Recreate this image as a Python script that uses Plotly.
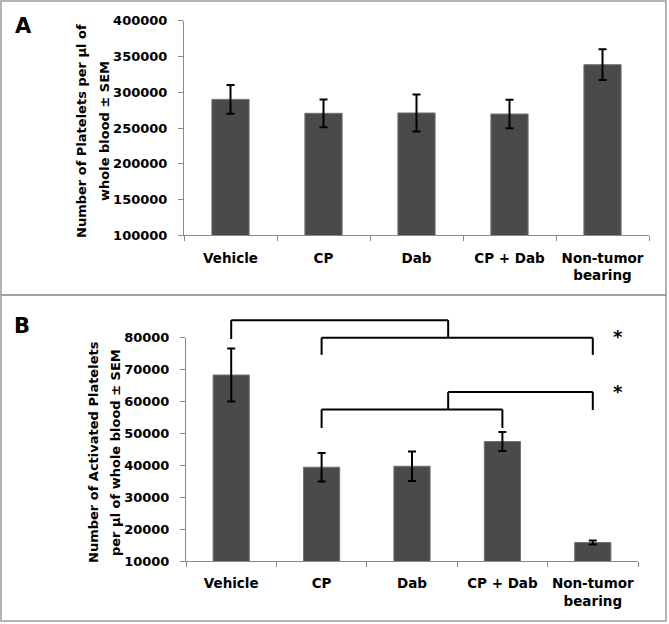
import plotly.graph_objects as go

# ---------------- data ----------------
categories = ["Vehicle", "CP", "Dab", "CP + Dab", "Non-tumor<br>bearing"]

platelets = [290000, 270500, 271000, 269500, 338500]
platelets_sem = [20000, 19500, 26000, 20000, 21500]

activated = [68300, 39400, 39700, 47450, 15800]
activated_sem = [8300, 4450, 4600, 3000, 650]

ytitle_a = ["Number of Platelets per µl of", "whole blood ± SEM"]
ytitle_b = ["Number of Activated Platelets", "per µl of whole blood ± SEM"]

# significance brackets for panel B: (x_left, x_right, y_top, y_left_end, y_right_end)
brackets = [
    (0, 2.4, 85500, 79600, 80000),
    (1, 4, 80000, 74600, 74600),
    (2.4, 4, 63000, 57500, 57300),
    (1, 3, 57500, 51700, 51700),
]
stars = [(4.28, 80300), (4.28, 63000)]

# ---------------- layout geometry ----------------
W, H = 669, 624
FONT = "DejaVu Sans"
GRAY = "#8a8a8a"

xa_dom = [184 / W, 649 / W]
ya_dom = [1 - 235.3 / H, 1 - 20.7 / H]
xb_dom = [186 / W, 638 / W]
yb_dom = [1 - 561 / H, 1 - 337.7 / H]
ya_rng = [100000, 400000]
yb_rng = [10000, 80000]


def py_b(v):
    return yb_dom[0] + (v - yb_rng[0]) / (yb_rng[1] - yb_rng[0]) * (yb_dom[1] - yb_dom[0])


fig = go.Figure()

bar_style = dict(marker=dict(color="#4a4a4a", line=dict(color="#707070", width=1)),
                 showlegend=False, hoverinfo="skip")
err_style = dict(type="data", visible=True, color="black", thickness=2, width=4)

fig.add_trace(go.Bar(x=categories, y=platelets, error_y=dict(array=platelets_sem, **err_style),
                     xaxis="x", yaxis="y", **bar_style))
fig.add_trace(go.Bar(x=categories, y=activated, error_y=dict(array=activated_sem, **err_style),
                     xaxis="x2", yaxis="y2", **bar_style))

tickfont = dict(family=FONT, size=13.5, color="black", weight="bold")
xcommon = dict(type="category", showline=True, linecolor=GRAY, linewidth=1,
               ticks="outside", tickson="boundaries", ticklen=5, tickcolor=GRAY,
               tickfont=tickfont, showgrid=False, zeroline=False, fixedrange=True,
               ticklabelstandoff=10, tickangle=0, automargin=False)
ycommon = dict(showline=True, linecolor=GRAY, linewidth=1, ticks="outside", ticklen=5,
               tickcolor=GRAY, tickfont=dict(family=FONT, size=13, color="black", weight="bold"),
               showgrid=False, zeroline=False,
               ticklabelstandoff=8, fixedrange=True, tickformat="d", automargin=False)

fig.update_layout(
    width=W, height=H,
    margin=dict(l=0, r=0, t=0, b=0),
    paper_bgcolor="white", plot_bgcolor="white",
    bargap=0.6,
    xaxis=dict(domain=xa_dom, anchor="y", **xcommon),
    yaxis=dict(domain=ya_dom, anchor="x", range=ya_rng, tickvals=list(range(100000, 400001, 50000)),
               **ycommon),
    xaxis2=dict(domain=xb_dom, anchor="y2", **xcommon),
    yaxis2=dict(domain=yb_dom, anchor="x2", range=yb_rng, tickvals=list(range(10000, 80001, 10000)),
                **ycommon),
)

shapes = []
# panel frames
shapes.append(dict(type="rect", xref="paper", yref="paper", x0=1 / W, x1=666 / W,
                   y0=1 - 295 / H, y1=1 - 1 / H, line=dict(color="#9a9a9a", width=1.5)))
shapes.append(dict(type="rect", xref="paper", yref="paper", x0=1 / W, x1=666 / W,
                   y0=1 - 621 / H, y1=1 - 295 / H, line=dict(color="#9a9a9a", width=1.5)))

line = dict(color="black", width=2)
for xl, xr, yt, yl, yr in brackets:
    shapes.append(dict(type="line", xref="x2", yref="paper", x0=xl, x1=xr, y0=py_b(yt), y1=py_b(yt), line=line))
    shapes.append(dict(type="line", xref="x2", yref="paper", x0=xl, x1=xl, y0=py_b(yt), y1=py_b(yl), line=line))
    shapes.append(dict(type="line", xref="x2", yref="paper", x0=xr, x1=xr, y0=py_b(yt), y1=py_b(yr), line=line))
fig.update_layout(shapes=shapes)

ann = []
titlefont = dict(family=FONT, size=13, color="black", weight="bold")
for txt, xpx in zip(ytitle_a, [81, 104]):
    ann.append(dict(text=txt, xref="paper", yref="paper", x=xpx / W, y=1 - 131 / H, textangle=-90,
                    showarrow=False, xanchor="center", yanchor="middle", font=titlefont))
for txt, xpx in zip(ytitle_b, [93, 115]):
    ann.append(dict(text=txt, xref="paper", yref="paper", x=xpx / W, y=1 - 452 / H, textangle=-90,
                    showarrow=False, xanchor="center", yanchor="middle", font=titlefont))
for txt, xpx, ypx in [("A", 23, 26), ("B", 22, 326)]:
    ann.append(dict(text=txt, xref="paper", yref="paper", x=xpx / W, y=1 - ypx / H, showarrow=False,
                    xanchor="center", yanchor="middle",
                    font=dict(family=FONT, size=21, color="black", weight="bold")))
for sx, sy in stars:
    ann.append(dict(text="*", xref="x2", yref="paper", x=sx, y=py_b(sy), showarrow=False,
                    xanchor="center", yanchor="middle",
                    font=dict(family=FONT, size=18, color="black", weight="bold")))
fig.update_layout(annotations=ann)

fig.write_html("out.html", config={"displayModeBar": False},
               post_script="document.body.style.margin='0';document.body.style.overflow='hidden';")
